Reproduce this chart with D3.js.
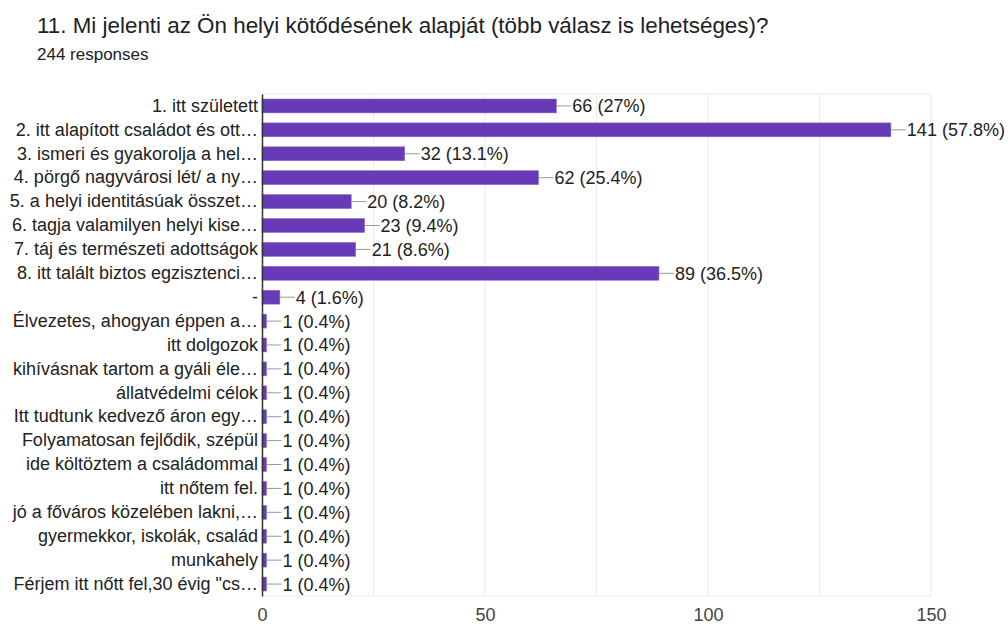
<!DOCTYPE html>
<html><head><meta charset="utf-8">
<script src="https://cdn.jsdelivr.net/npm/d3@7"></script>
<style>body{margin:0;background:#fff}svg{display:block}text{font-family:"Liberation Sans",Arial,Helvetica,sans-serif}</style>
</head><body>
<script>
const categories = [
 "1. itt született",
 "2. itt alapított családot és ott…",
 "3. ismeri és gyakorolja a hel…",
 "4. pörgő nagyvárosi lét/ a ny…",
 "5. a helyi identitásúak összet…",
 "6. tagja valamilyen helyi kise…",
 "7. táj és természeti adottságok",
 "8. itt talált biztos egzisztenci…",
 "-",
 "Élvezetes, ahogyan éppen a…",
 "itt dolgozok",
 "kihívásnak tartom a gyáli éle…",
 "állatvédelmi célok",
 "Itt tudtunk kedvező áron egy…",
 "Folyamatosan fejlődik, szépül",
 "ide költöztem a családommal",
 "itt nőtem fel.",
 "jó a főváros közelében lakni,…",
 "gyermekkor, iskolák, család",
 "munkahely",
 "Férjem itt nőtt fel,30 évig \"cs…"
];
const counts = [66,141,32,62,20,23,21,89,4,1,1,1,1,1,1,1,1,1,1,1,1];
const percents = ["27%","57.8%","13.1%","25.4%","8.2%","9.4%","8.6%","36.5%","1.6%","0.4%","0.4%","0.4%","0.4%","0.4%","0.4%","0.4%","0.4%","0.4%","0.4%","0.4%","0.4%"];
const xTicks = [0,50,100,150];
const gridTicks = [0,25,50,75,100,125,150];
const title = "11. Mi jelenti az Ön helyi kötődésének alapját (több válasz is lehetséges)?";
const subtitle = "244 responses";

(function(){
const W=1008,H=626;
const svg=d3.select("body").append("svg").attr("width",W).attr("height",H);
const pL=262,pR=931,pT=94,pB=596;
const x=d3.scaleLinear().domain([0,150]).range([pL,pR]);
const y=d3.scaleBand().domain(categories).range([pT,pB]).paddingInner(0.42).paddingOuter(0.21);

svg.append("text").attr("x",37).attr("y",33).attr("font-size",22.4).attr("fill","#202124").text(title);
svg.append("text").attr("x",37).attr("y",60).attr("font-size",17).attr("fill","#202124").text(subtitle);

// grid
svg.append("g").selectAll("line").data(gridTicks.slice(1)).join("line")
 .attr("x1",d=>x(d)).attr("x2",d=>x(d)).attr("y1",pT).attr("y2",pB)
 .attr("stroke","#ebebeb").attr("stroke-width",1);
svg.append("line").attr("x1",pL).attr("x2",pR).attr("y1",pT).attr("y2",pT).attr("stroke","#ebebeb");
svg.append("line").attr("x1",pL).attr("x2",pR).attr("y1",pB).attr("y2",pB).attr("stroke","#ebebeb");

// bars
const g=svg.append("g");
g.selectAll("rect").data(counts).join("rect")
 .attr("x",x(0)).attr("y",(d,i)=>y(categories[i]))
 .attr("width",d=>x(d)-x(0)).attr("height",y.bandwidth())
 .attr("fill","#673ab7").attr("stroke","#8a68c9").attr("stroke-width",0.6);

// leader lines + labels
g.selectAll("line.lead").data(counts).join("line").attr("class","lead")
 .attr("x1",d=>x(d)).attr("x2",d=>x(d)+15)
 .attr("y1",(d,i)=>y(categories[i])+y.bandwidth()/2).attr("y2",(d,i)=>y(categories[i])+y.bandwidth()/2)
 .attr("stroke","#999").attr("stroke-width",1);
g.selectAll("text.val").data(counts).join("text").attr("class","val")
 .attr("x",d=>x(d)+16).attr("y",(d,i)=>y(categories[i])+y.bandwidth()/2)
 .attr("dy","0.36em").attr("font-size",18).attr("fill","#222")
 .text((d,i)=>d+" ("+percents[i]+")");

// y axis
const ya=svg.append("g").attr("transform",`translate(${pL},0)`).call(d3.axisLeft(y).tickSize(0).tickPadding(4));
ya.select(".domain").attr("stroke","#333").attr("stroke-width",1.5);
ya.selectAll("text").attr("font-size",18).attr("fill","#222").attr("font-family","'Liberation Sans',Arial,sans-serif");

// x axis
const xa=svg.append("g").attr("transform",`translate(0,${pB})`).call(d3.axisBottom(x).tickValues(xTicks).tickSize(0).tickPadding(12));
xa.select(".domain").remove();
xa.selectAll("text").attr("font-size",18).attr("fill","#444").attr("font-family","'Liberation Sans',Arial,sans-serif");
})();
</script>
</body></html>
